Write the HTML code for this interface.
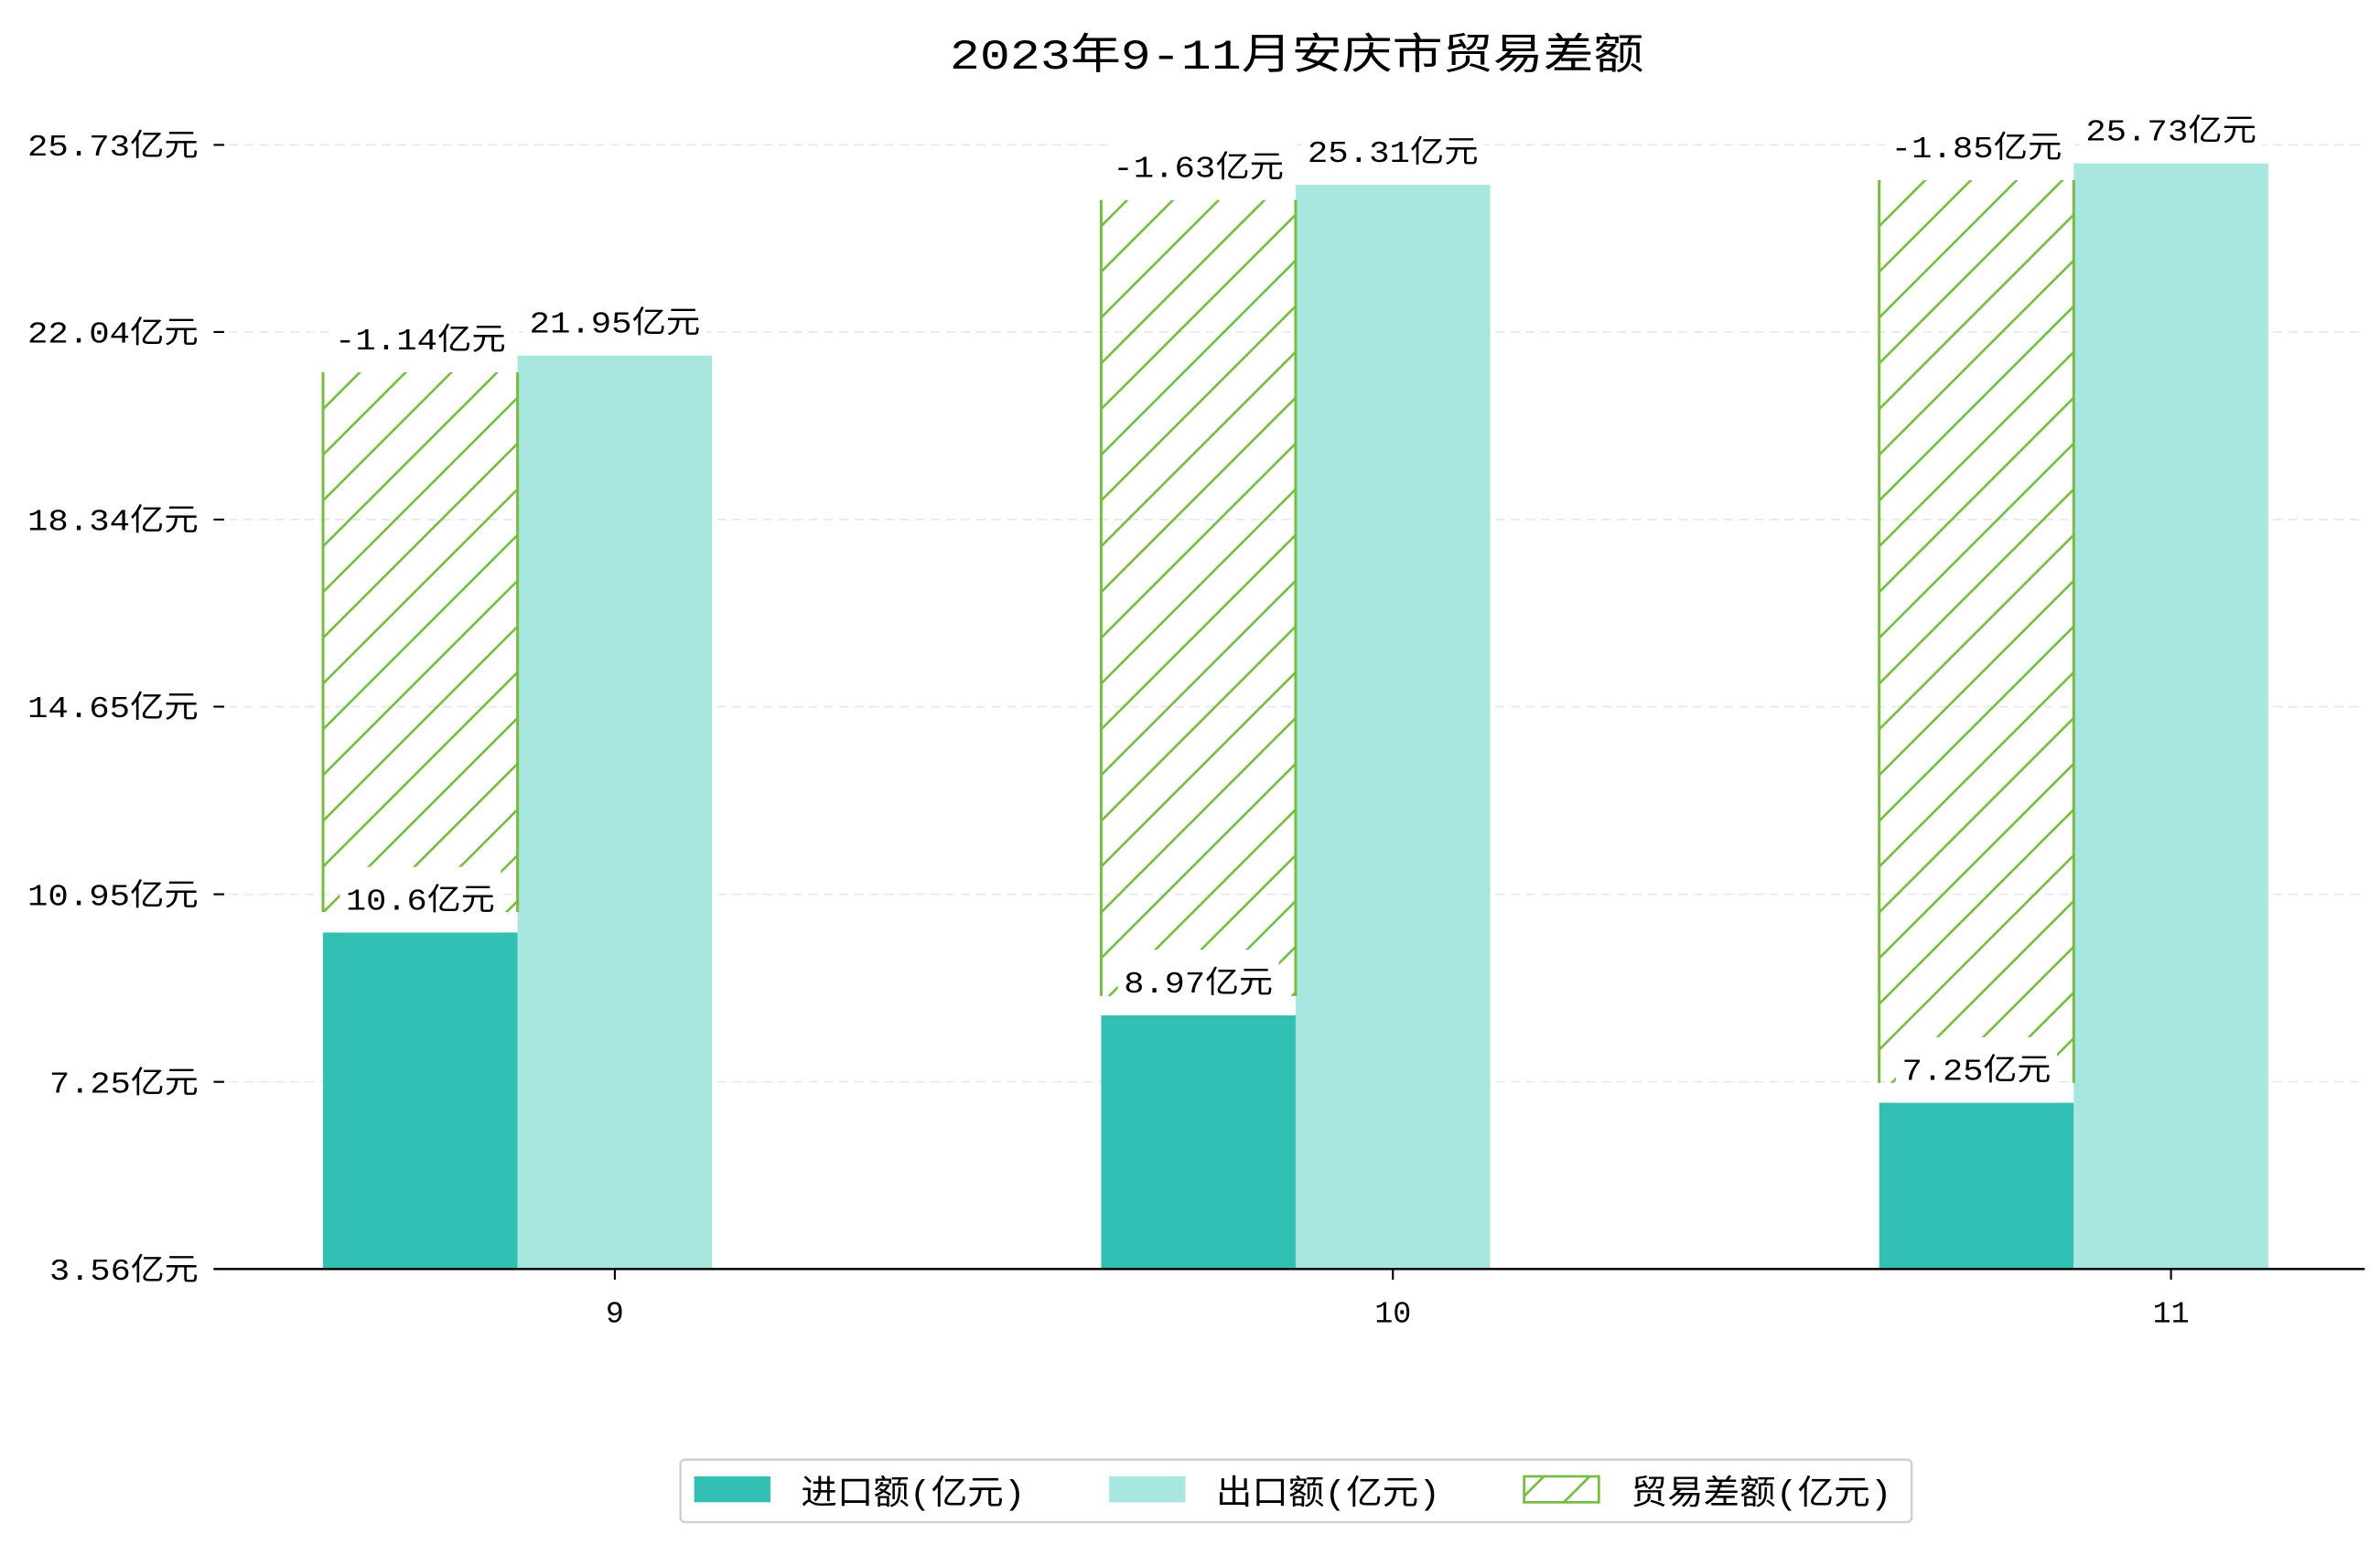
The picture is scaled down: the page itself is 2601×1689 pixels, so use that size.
<!DOCTYPE html>
<html><head><meta charset="utf-8"><style>
html,body{margin:0;padding:0;background:#fff;}
svg{display:block;}
text{font-family:"Liberation Mono","Noto Sans CJK SC",monospace;fill:#000;}
</style></head><body>
<svg id="chart" width="2601" height="1689" viewBox="0 0 1560 1013" preserveAspectRatio="none" xmlns="http://www.w3.org/2000/svg">
<defs>
<pattern id="hatch" patternUnits="userSpaceOnUse" width="30" height="30">
<line x1="-5" y1="35" x2="35" y2="-5" stroke="#77bb41" stroke-width="1.6"/>
<line x1="-20" y1="20" x2="20" y2="-20" stroke="#77bb41" stroke-width="1.6"/>
<line x1="10" y1="50" x2="50" y2="10" stroke="#77bb41" stroke-width="1.6"/>
</pattern>
</defs>
<rect width="1560" height="1013" fill="#fff"/>
<text x="850" y="45" font-size="28" text-anchor="middle" textLength="455" lengthAdjust="spacingAndGlyphs" font-family="Noto Sans CJK SC, sans-serif">2023年9-11月安庆市贸易差额</text>
<g id="grid"></g>
<g id="bars"></g>
<g id="labels"></g>
<line x1="140" y1="832" x2="1550" y2="832" stroke="#000" stroke-width="1.5"/>
<g id="axes"></g>
<g>
<rect x="446" y="957" width="807" height="41" rx="3" fill="#fff" stroke="#d0d0d0" stroke-width="1.5"/>
<rect x="455" y="968" width="50" height="17" fill="#32c0b4"/>
<text x="525" y="986" font-size="22" textLength="147" lengthAdjust="spacingAndGlyphs" font-family="Noto Sans CJK SC, sans-serif">进口额(亿元)</text>
<rect x="727" y="968" width="50" height="17" fill="#a8e6e0"/>
<text x="797" y="986" font-size="22" textLength="147" lengthAdjust="spacingAndGlyphs" font-family="Noto Sans CJK SC, sans-serif">出口额(亿元)</text>
<rect x="999" y="968" width="49" height="17" fill="url(#hatch)" stroke="#77bb41" stroke-width="1.6"/>
<text x="1069" y="986" font-size="22" textLength="171" lengthAdjust="spacingAndGlyphs" font-family="Noto Sans CJK SC, sans-serif">贸易差额(亿元)</text>
</g>
</svg>
<script>
const categories = ["9","10","11"];
const importValues = [10.6, 8.97, 7.25];
const exportValues = [21.95, 25.31, 25.73];
const balanceValues = [-1.14, -1.63, -1.85];
const hatchLow = [11.0, 9.35, 7.64];
const hatchHigh = [21.62, 25.01, 25.40];
const tickValues = [3.56, 7.25, 10.95, 14.65, 18.34, 22.04, 25.73];
const tickLabels = ["3.56亿元","7.25亿元","10.95亿元","14.65亿元","18.34亿元","22.04亿元","25.73亿元"];

const NS = "http://www.w3.org/2000/svg";
function tickY(v){ return 832 - (v - 3.56) * (737 / (25.73 - 3.56)); }
function barY(v){ return 964.7 - v * 33.33; }
function xCenter(i){ return 403 + i * 510; }
const BW = 127.5;
function mk(tag, attrs, parent){ const e = document.createElementNS(NS, tag); for (const k in attrs) e.setAttribute(k, attrs[k]); parent.appendChild(e); return e; }
function textLen(s, fs){ let n = 0; for (const c of s) n += (c.charCodeAt(0) > 255) ? fs : fs * 0.72; return n; }

const grid = document.getElementById('grid');
const axes = document.getElementById('axes');
tickValues.forEach((v, i) => {
  const y = tickY(v);
  if (i > 0) {
    const g = mk('line', {x1:140, x2:1550, y1:y, y2:y, stroke:'#e8e8e8', 'stroke-dasharray':'6,4', 'stroke-width':1}, grid);
    
    
  }
  const t = mk('line', {x1:140, x2:147, y1:y, y2:y, stroke:'#000', 'stroke-width':1.3}, axes);
  
  
  const lbl = tickLabels[i];
  const tx = mk('text', {x:130, y:y + 7, 'font-size':20, 'text-anchor':'end', textLength:textLen(lbl, 20), lengthAdjust:'spacingAndGlyphs'}, axes);
  tx.textContent = lbl;
  
  
});

const bars = document.getElementById('bars');
const labels = document.getElementById('labels');
function addLabel(cx, yBase, str, name){
  const w = textLen(str, 20) + 8;
  const bg = mk('rect', {x:cx - w/2, y:yBase - 43, width:w, height:43, fill:'#fff'}, labels);
  
  
  const t = mk('text', {x:cx, y:yBase - 15, 'font-size':20, 'text-anchor':'middle', textLength:w - 8, lengthAdjust:'spacingAndGlyphs'}, labels);
  t.textContent = str;
  
  
}
categories.forEach((c, i) => {
  const cx = xCenter(i);
  const xi = cx - BW * 1.5, xe = cx - BW / 2;
  const yi = barY(importValues[i]);
  const r1 = mk('rect', {x:xi, y:yi, width:BW, height:832 - yi, fill:'#32c0b4'}, bars);
  
  
  const ye = barY(exportValues[i]);
  const r2 = mk('rect', {x:xe, y:ye, width:BW, height:832 - ye, fill:'#a8e6e0'}, bars);
  
  
  const yh = barY(hatchHigh[i]), yl = barY(hatchLow[i]);
  const r3 = mk('rect', {x:xi, y:yh, width:BW, height:yl - yh, fill:'url(#hatch)'}, bars);
  
  
  const e1 = mk('line', {x1:xi, x2:xi, y1:yh, y2:yl, stroke:'#77bb41', 'stroke-width':1.8}, bars);
  
  
  const e2 = mk('line', {x1:xi + BW, x2:xi + BW, y1:yh, y2:yl, stroke:'#77bb41', 'stroke-width':1.8}, bars);
  
  
  addLabel(xi + BW/2, yi, importValues[i] + '亿元', 'import-value-label');
  addLabel(xi + BW/2, yh, balanceValues[i] + '亿元', 'balance-value-label');
  addLabel(xe + BW/2, ye, exportValues[i] + '亿元', 'export-value-label');
  const tm = mk('line', {x1:cx, x2:cx, y1:832, y2:839, stroke:'#000', 'stroke-width':1.3}, axes);
  
  
  const xl = mk('text', {x:cx, y:867, 'font-size':20, 'text-anchor':'middle'}, axes);
  xl.textContent = c;
  
  
});
</script>
</body></html>
